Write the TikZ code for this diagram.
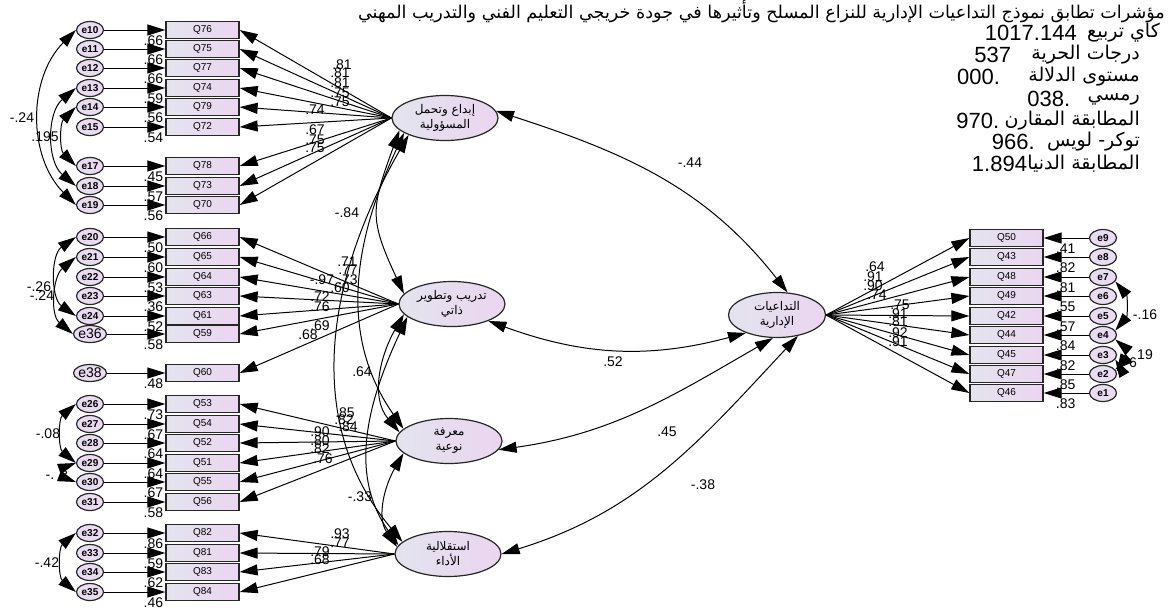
\documentclass[tikz,border=0pt]{standalone}
\usepackage{fontspec}
\setmainfont{Liberation Sans}
\newfontfamily\arabicfont[Script=Arabic]{DejaVu Sans}
\TeXXeTstate=1
\usetikzlibrary{arrows.meta,shapes.geometric,positioning}

\definecolor{boxleft}{HTML}{E3E4EE}
\definecolor{boxright}{HTML}{EBD5F0}
\definecolor{errfill}{HTML}{E9DCF1}

\tikzset{
  >={Triangle[length=18pt,width=11pt]},
  item/.style={draw=black!85, line width=1.3pt, left color=boxleft, right color=boxright,
    minimum width=73pt, minimum height=17pt, inner sep=0pt, font=\fontsize{10}{10}\selectfont},
  err/.style={ellipse, draw=black!85, line width=1.2pt, fill=errfill,
    minimum width=27pt, minimum height=17pt, inner sep=0pt},
  factor/.style={ellipse, draw=black!85, line width=1.2pt, left color=boxleft, right color=boxright,
    minimum width=106pt, minimum height=45pt, inner sep=0pt, align=center,
    font=\arabicfont\fontsize{12}{15}\selectfont},
  coef/.style={inner sep=0pt, font=\fontsize{14}{14}\selectfont},
  hdr/.style={inner sep=0pt, anchor=east, font=\arabicfont\fontsize{19}{19}\selectfont},
  hnum/.style={inner sep=0pt, font=\fontsize{22}{22}\selectfont},
}

\begin{document}
\begin{tikzpicture}[x=1pt,y=-1pt]
  \useasboundingbox (0,0) rectangle (1168,608);

  % Latent factors
  \node[factor] (F1) at (445,118) {\beginR إبداع وتحمل\endR\\\beginR المسؤولية\endR};
  \node[factor] (F2) at (452,304) {\beginR تدريب وتطوير\endR\\\beginR ذاتي\endR};
  \node[factor] (F3) at (449,441) {\beginR معرفة\endR\\\beginR نوعية\endR};
  \node[factor] (F4) at (448,554) {\beginR استقلالية\endR\\\beginR الأداء\endR};
  \node[factor, minimum width=97pt] (F5) at (777,315) {\beginR التداعيات\endR\\\beginR الإدارية\endR};

  % Left indicators and their errors
  \foreach \e/\q/\y/\r/\s in {10/76/30/.66/10, 11/75/49/.66/10, 12/77/68/.66/10, 13/74/88/.59/10,
      14/79/107/.56/10, 15/72/127/.54/10, 17/78/166/.45/10, 18/73/186/.57/10, 19/70/205/.56/10,
      20/66/237/.50/10, 21/65/257/.60/10, 22/64/277/.53/10, 23/63/296/.36/10, 24/61/316/.52/10,
      36/59/334/.58/14, 38/60/373/.48/14,
      26/53/404/.73/10, 27/54/424/.67/10, 28/52/443/.64/10, 29/51/463/.64/10, 30/55/482/.67/10,
      31/56/502/.58/10, 32/82/533/.86/10, 33/81/553/.59/10, 34/83/572/.62/10, 35/84/592/.46/10}{
    \node[item] (Q\q) at (202.5,\y) {Q\q};
    \node[err, font=\ifnum\s>12\relax\mdseries\else\bfseries\fi\fontsize{\s}{\s}\selectfont] (e\e) at (90,\y) {e\e};
    \draw[->, line width=1pt] (e\e) -- (Q\q);
    \node[coef, anchor=east] (r\q) at ([xshift=-2pt,yshift=-2pt]Q\q.south west) {\r};
  }

  % Right indicators and their errors
  \foreach \e/\q/\y/\r in {9/50/238/.41, 8/43/257/.82, 7/48/277/.81, 6/49/296/.55, 5/42/316/.57,
      4/44/335/.84, 3/45/355/.82, 2/47/374/.85, 1/46/393/.83}{
    \node[item] (Q\q) at (1006.5,\y) {Q\q};
    \node[err, font=\bfseries\fontsize{10}{10}\selectfont] (e\e) at (1103,\y) {e\e};
    \draw[->, line width=1pt] (e\e) -- (Q\q);
    \node[coef, anchor=west] (r\q) at ([xshift=12pt,yshift=-2pt]Q\q.south east) {\r};
    \draw[->, line width=1pt] (F5.east) -- (Q\q.west);
  }

  % Loadings
  \foreach \q in {76,75,77,74,79,72,78,73,70} \draw[->, line width=1pt] (F1.west) -- (Q\q.east);
  \foreach \q in {66,65,64,63,61,59,60} \draw[->, line width=1pt] (F2.west) -- (Q\q.east);
  \foreach \q in {53,54,52,51,55,56} \draw[->, line width=1pt] (F3.west) -- (Q\q.east);
  \foreach \q in {82,81,83,84} \draw[->, line width=1pt] (F4.west) -- (Q\q.east);

  % Covariances between factors
  \draw[<->, line width=1pt] (F1.195) to[out=250,in=115,looseness=1.3] (F2.168);
  \draw[<->, line width=1pt] (F1.200) to[out=245,in=125] (F3.165);
  \draw[<->, line width=1pt] (F1.205) to[out=240,in=130] (F4.165);
  \draw[<->, line width=1pt] (F2.192) to[out=240,in=130] (F3.170);
  \draw[<->, line width=1pt] (F2.196) to[out=245,in=125] (F4.170);
  \draw[<->, line width=1pt] (F3.195) to[out=240,in=125] (F4.172);
  \draw[<->, line width=1pt] (F1.8) to[out=-18,in=128] (F5.65);
  \draw[<->, line width=1pt] (F2.-25) to[out=-20,in=195] (F5.210);
  \draw[<->, line width=1pt] (F3.-10) to[out=8,in=210] (F5.-100);
  \draw[<->, line width=1pt] (F4.0) to[out=17,in=227] (F5.-45);

  % Error covariances
  \draw[<->, line width=1pt] (e10.west) to[out=225,in=135] (e19.west);
  \draw[<->, line width=1pt] (e13.west) to[out=220,in=140] (e18.west);
  \draw[<->, line width=1pt] (e14.west) to[out=225,in=135] (e17.west);
  \draw[<->, line width=1pt] (e20.west) to[out=215,in=145] (e24.west);
  \draw[<->, line width=1pt] (e21.west) to[out=220,in=140] (e36.west);
  \draw[<->, line width=1pt] (e26.west) to[out=220,in=140] (e29.west);
  \draw[<->, line width=1pt] (e29.west) to[out=200,in=160] (e30.west);
  \draw[<->, line width=1pt] (e32.west) to[out=220,in=140] (e35.west);
  \draw[<->, line width=1pt] (e7.-20) to[out=-50,in=50] (e4.20);
  \draw[<->, line width=1pt] (e4.-20) to[out=-40,in=40] (e2.20);
  \draw[<->, line width=1pt] (e3.-20) to[out=-60,in=60] (e2.10);

  % Estimates
  \foreach \t/\x/\y [count=\i] in {.81/342/65, .81/340/73, .81/340/83, .75/340/93, .75/340/102,
      .74/315/110, .67/315/130, .75/315/140, .75/315/148,
      .71/347/262, .77/348/270, -.97/322/280, .73/348/280, .60/340/288, .72/320/297,
      .76/320/307, .69/320/326, .68/308/335,
      .85/345/413, .82/344/420, .84/348/427, .90/320/432, .80/320/441, .82/320/449, .76/323/459,
      .93/340/534, .77/340/543, .79/320/552, .68/320/560,
      -.84/347/213, .64/362/372, -.33/360/497,
      -.44/690/163, .52/613/362, .45/667/432, -.38/703/485,
      .64/875/267, .91/873/277, .90/873/286, .74/877/295, .75/900/305, .91/898/314,
      .81/898/322, .92/898/333, .91/898/342,
      -.24/22/118, .195/45/137, -.26/39/287, -.24/42/296, -.08/48/434, -./50/477, -.42/47/563,
      -.16/1145/315, 19/1145/355, 6/1133/363}
    \node[coef] (c\i) at (\x,\y) {\t};

  % Fit indices
  \node[hdr, font=\arabicfont\fontsize{17.6}{17.6}\selectfont] (title) at (1165,12)
    {\beginR مؤشرات تطابق نموذج التداعيات الإدارية للنزاع المسلح وتأثيرها في جودة خريجي التعليم الفني والتدريب المهني\endR};
  \node[hdr] (hchi) at (1160,33) {\beginR كاي تربيع\endR};
  \node[hnum, left=10pt of hchi] (vchi) {1017.144};
  \node[hdr] (hdf) at (1140,55) {\beginR درجات الحرية\endR};
  \node[hnum, left=20pt of hdf] (vdf) {537};
  \node[hdr] (hsig) at (1140,77) {\beginR مستوى الدلالة\endR};
  \node[hnum, left=28pt of hsig] (vsig) {000.};
  \node[hdr] (hrm) at (1140,99) {\beginR رمسي\endR};
  \node[hnum, left=17pt of hrm] (vrm) {038.};
  \node[hdr] (hcfi) at (1140,121) {\beginR المطابقة المقارن\endR};
  \node[hnum, left=5pt of hcfi] (vcfi) {970.};
  \node[hdr] (htli) at (1140,142) {\beginR توكر- لويس\endR};
  \node[hnum, left=12pt of htli] (vtli) {966.};
  \node[hdr] (hmin) at (1140,164) {\beginR المطابقة الدنيا\endR};
  \node[hnum, left=0pt of hmin] (vmin) {1.894};
\end{tikzpicture}
\end{document}
